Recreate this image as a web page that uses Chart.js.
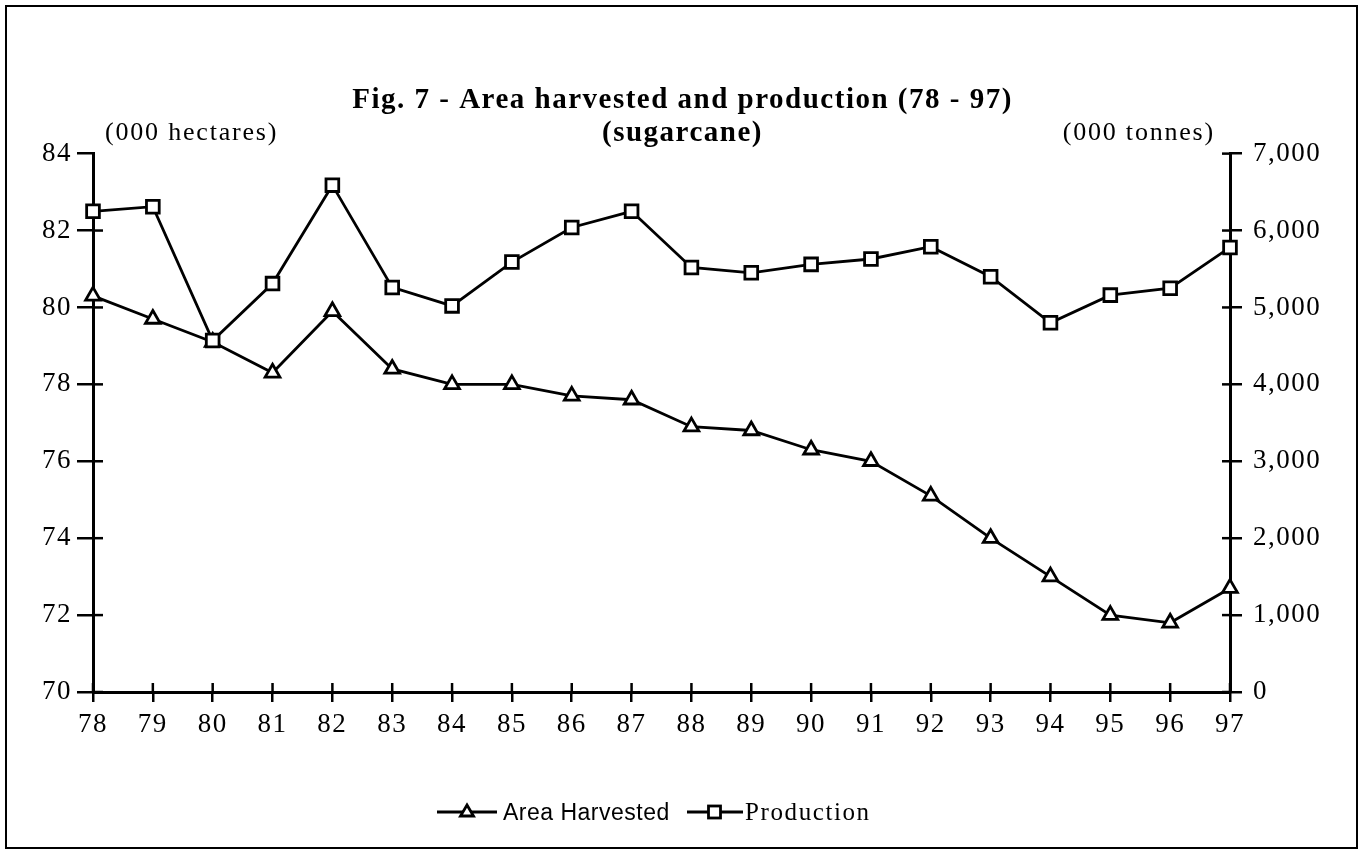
<!DOCTYPE html>
<html>
<head>
<meta charset="utf-8">
<script src="https://cdn.jsdelivr.net/npm/chart.js@4.4.1/dist/chart.umd.min.js"></script>
<style>
  html, body { margin:0; padding:0; background:#fff; }
  #wrap { position:relative; width:1365px; height:856px; }
  #frame { position:absolute; left:5px; top:5px; width:1353px; height:844px; border:2px solid #000; box-sizing:border-box; pointer-events:none; }
  canvas { position:absolute; left:0; top:0; }
  .lg { position:absolute; top:797px; height:30px; display:flex; align-items:center; color:#000; white-space:nowrap; }
  .sans { font-family:"Liberation Sans", Arial, sans-serif; font-size:23px; letter-spacing:0.5px; }
  .serif { font-family:"Liberation Serif", "Times New Roman", serif; font-size:25px; letter-spacing:1.6px; }
  .lg svg { display:block; }
</style>
</head>
<body>
<div id="wrap">
  <canvas id="c" width="1365" height="856"></canvas>
  <div id="frame"></div>
  <div class="lg" style="left:437px"><svg width="60" height="30"><line x1="0" y1="15" x2="60" y2="15" stroke="#000" stroke-width="2.8"/><polygon points="30,8 36.5,19 23.5,19" fill="#fff" stroke="#000" stroke-width="2.8"/></svg></div>
  <div class="lg sans" style="left:503px">Area Harvested</div>
  <div class="lg" style="left:687px"><svg width="56" height="30"><line x1="0" y1="15" x2="56" y2="15" stroke="#000" stroke-width="2.8"/><rect x="21.5" y="9" width="12" height="12" fill="#fff" stroke="#000" stroke-width="2.8"/></svg></div>
  <div class="lg serif" style="left:745px">Production</div>
</div>
<script>
const years = ['78','79','80','81','82','83','84','85','86','87','88','89','90','91','92','93','94','95','96','97'];
const areaHarvested = [80.3, 79.7, 79.1, 78.3, 79.9, 78.4, 78.0, 78.0, 77.7, 77.6, 76.9, 76.8, 76.3, 76.0, 75.1, 74.0, 73.0, 72.0, 71.8, 72.7];
const production = [6250, 6310, 4570, 5310, 6590, 5260, 5020, 5590, 6040, 6250, 5520, 5450, 5560, 5630, 5790, 5400, 4800, 5160, 5250, 5780];
const titleLines = ['Fig. 7 - Area harvested and production (78 - 97)', '(sugarcane)'];
const leftUnit = '(000 hectares)';
const rightUnit = '(000 tonnes)';

const SERIF = '"Liberation Serif", "Times New Roman", serif';

const spacingPlugin = {
  id: 'spacing',
  beforeDraw(chart) { chart.ctx.letterSpacing = '1.5px'; }
};

const innerTicks = {
  id: 'innerTicks',
  beforeDatasetsDraw(chart) {
    const ctx = chart.ctx, a = chart.chartArea;
    ctx.save();
    ctx.strokeStyle = '#000';
    ctx.lineWidth = 2.5;
    const yl = chart.scales.y, yr = chart.scales.y2, x = chart.scales.x;
    yl.ticks.forEach((t, i) => {
      if (i === yl.ticks.length - 1) return;
      const p = yl.getPixelForTick(i);
      ctx.beginPath(); ctx.moveTo(a.left, p); ctx.lineTo(a.left + 10, p); ctx.stroke();
    });
    yr.ticks.forEach((t, i) => {
      const p = yr.getPixelForTick(i);
      ctx.beginPath(); ctx.moveTo(a.right - 8, p); ctx.lineTo(a.right, p); ctx.stroke();
    });
    x.ticks.forEach((t, i) => {
      const p = x.getPixelForTick(i);
      ctx.beginPath(); ctx.moveTo(p, a.bottom - 9); ctx.lineTo(p, a.bottom); ctx.stroke();
    });
    ctx.restore();
  }
};

const unitLabels = {
  id: 'unitLabels',
  afterDraw(chart) {
    const ctx = chart.ctx, a = chart.chartArea;
    ctx.save();
    ctx.letterSpacing = '1.8px';
    ctx.fillStyle = '#000';
    ctx.font = '26px ' + SERIF;
    ctx.textBaseline = 'middle';
    ctx.textAlign = 'left';
    ctx.fillText(leftUnit, a.left + 12, a.top - 20);
    ctx.textAlign = 'right';
    ctx.fillText(rightUnit, a.right - 15, a.top - 20);
    ctx.restore();
  }
};

const tickFont = { family: SERIF, size: 27 };

new Chart(document.getElementById('c'), {
  type: 'line',
  data: {
    labels: years,
    datasets: [
      {
        label: 'Area Harvested',
        data: areaHarvested,
        yAxisID: 'y',
        order: 1,
        borderColor: '#000',
        borderWidth: 2.8,
        pointStyle: 'triangle',
        pointRadius: 8.5,
        pointBorderWidth: 2.8,
        pointBackgroundColor: '#fff',
        pointBorderColor: '#000',
        tension: 0,
        clip: false
      },
      {
        label: 'Production',
        data: production,
        yAxisID: 'y2',
        order: 0,
        borderColor: '#000',
        borderWidth: 2.8,
        pointStyle: 'rect',
        pointRadius: 9,
        pointBorderWidth: 2.8,
        pointBackgroundColor: '#fff',
        pointBorderColor: '#000',
        tension: 0,
        clip: false
      }
    ]
  },
  options: {
    responsive: false,
    animation: false,
    devicePixelRatio: 1,
    layout: { padding: 0 },
    plugins: {
      legend: { display: false },
      tooltip: { enabled: false },
      title: {
        display: true,
        text: titleLines,
        color: '#000',
        font: { family: SERIF, size: 29, weight: 'bold', lineHeight: 1.14 },
        padding: { top: 83.5, bottom: 4 }
      }
    },
    scales: {
      x: {
        type: 'category',
        offset: false,
        grid: { drawOnChartArea: false, drawTicks: true, tickLength: 10, lineWidth: 2.5, color: '#000' },
        border: { display: true, color: '#000', width: 3 },
        ticks: { color: '#000', font: tickFont, padding: 7, maxRotation: 0, autoSkip: false },
        afterFit(s) { s.height = 164; }
      },
      y: {
        position: 'left',
        min: 70, max: 84,
        grid: { drawOnChartArea: false, drawTicks: true, tickLength: 16, lineWidth: 2.5, color: '#000' },
        border: { display: true, color: '#000', width: 3 },
        ticks: { stepSize: 2, color: '#000', font: tickFont, padding: 5 },
        afterFit(s) { s.width = 93; }
      },
      y2: {
        position: 'right',
        min: 0, max: 7000,
        grid: { drawOnChartArea: false, drawTicks: true, tickLength: 12, lineWidth: 2.5, color: '#000' },
        border: { display: true, color: '#000', width: 3 },
        ticks: {
          stepSize: 1000, color: '#000', font: tickFont, padding: 11,
          callback: v => Number(v).toLocaleString('en-US')
        },
        afterFit(s) { s.width = 135; }
      }
    }
  },
  plugins: [spacingPlugin, innerTicks, unitLabels]
});
</script>
</body>
</html>
